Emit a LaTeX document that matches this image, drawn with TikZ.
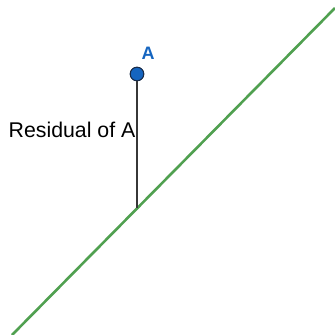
\documentclass[tikz,border=0pt]{standalone}
\usepackage{fontspec}
\setmainfont{Liberation Sans}
\definecolor{lineGreen}{RGB}{80,160,80}
\definecolor{ptBlue}{RGB}{21,101,192}
\definecolor{ptBorder}{RGB}{25,45,75}
\definecolor{segGray}{RGB}{55,55,55}
\begin{document}
\begin{tikzpicture}[x=1pt,y=1pt,
  fitline/.style={draw=lineGreen,line width=2.6pt},
  residual/.style={draw=segGray,line width=2.8pt},
  ptdot/.style={circle,fill=ptBlue,draw=ptBorder,line width=1pt,minimum size=13.5pt,inner sep=0pt},
  ptlabel/.style={text=ptBlue,font=\fontsize{18}{18}\selectfont\bfseries,inner sep=0pt},
  reslabel/.style={font=\fontsize{21.3}{21.3}\selectfont,inner sep=0pt,anchor=base west}]
\useasboundingbox (0,0) rectangle (335,335);
\coordinate (L1) at (12,0);
\coordinate (L2) at (335,327);
\coordinate (F) at (137,127);
\draw[fitline] (L1) -- (L2);
\node[ptdot] (A) at (137,261) {};
\draw[residual] (A.south) -- (F);
\node[ptdot] at (A) {};
\node[ptlabel] (Alab) at (148,282) {A};
\node[reslabel] (R) at (8.5,197.5) {Residual of A};
\end{tikzpicture}
\end{document}
